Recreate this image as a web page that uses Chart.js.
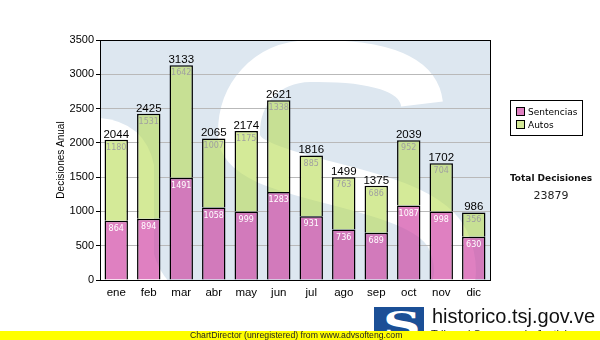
<!DOCTYPE html>
<html>
<head>
<meta charset="utf-8">
<script src="https://cdn.jsdelivr.net/npm/chart.js@4/dist/chart.umd.min.js"></script>
<style>
  body { margin: 0; background: #fff; }
  #wrap { position: relative; width: 600px; height: 340px; overflow: hidden; font-family: "DejaVu Sans", sans-serif; }
  #grafico { position: absolute; left: 0; top: 0; }
  .leyenda { position: absolute; left: 510px; top: 100px; width: 71px; height: 34px; border: 1px solid #000; background: #fff; }
  .item { position: absolute; left: 5px; font-size: 9px; line-height: 11px; color: #000; white-space: nowrap; }
  .item i { display: inline-block; width: 7px; height: 7px; border: 1px solid #000; margin-right: 3px; vertical-align: -1px; }
  .total-tit { position: absolute; left: 500px; width: 102px; top: 172px; text-align: center; font-weight: bold; font-size: 9px; line-height: 12px; color: #111; }
  .total-num { position: absolute; left: 500px; width: 102px; top: 189px; text-align: center; font-size: 11px; line-height: 14px; color: #222; }
  .logo { position: absolute; left: 374px; top: 307px; width: 50px; height: 33px; background: #1b4f96; overflow: hidden; }
  .logo span { position: absolute; left: 9px; top: -4px; font: bold 36px "DejaVu Serif", serif; color: #fff; transform: scaleX(1.45); transform-origin: left top; }
  .sitio { position: absolute; left: 432px; top: 306px; font: 20px "Liberation Sans", Arial, sans-serif; line-height: 20px; color: #111; }
  .tsj { position: absolute; left: 431px; top: 328px; font: 11px "Liberation Sans", Arial, sans-serif; line-height: 12px; color: #222; }
  .pie { position: absolute; left: 0; top: 331px; width: 600px; height: 9px; background: #ffff00; z-index: 5; }
  .pie span { position: absolute; left: 190px; top: -2px; font: 8.7px "Liberation Sans", Arial, sans-serif; line-height: 12px; color: #222; white-space: nowrap; }
</style>
</head>
<body>
<div id="wrap">
  <canvas id="grafico" width="600" height="340"></canvas>
  <div class="leyenda">
    <div class="item" style="top:6px"><i style="background:#df80c1"></i>Sentencias</div>
    <div class="item" style="top:19px"><i style="background:#d4ea98"></i>Autos</div>
  </div>
  <div class="total-tit">Total Decisiones</div>
  <div class="total-num" id="totalNum"></div>
  <div class="logo"><span>S</span></div>
  <div class="sitio">historico.tsj.gov.ve</div>
  <div class="tsj">Tribunal Supremo de Justicia</div>
  <div class="pie"><span>ChartDirector (unregistered) from www.advsofteng.com</span></div>
</div>
<script>
const meses = ["ene", "feb", "mar", "abr", "may", "jun", "jul", "ago", "sep", "oct", "nov", "dic"];
const sentencias = [864, 894, 1491, 1058, 999, 1283, 931, 736, 689, 1087, 998, 630];
const autos = [1180, 1531, 1642, 1007, 1175, 1338, 885, 763, 686, 952, 704, 356];

const totales = meses.map((m, i) => sentencias[i] + autos[i]);
document.getElementById("totalNum").textContent = totales.reduce((a, b) => a + b, 0);

// la "S" del logo como marca de agua del área de trazado
function pintarMarca(o, a) {
  const w = a.right - a.left, h = a.bottom - a.top;
  o.save();
  o.beginPath();
  o.rect(a.left, a.top, w, h);
  o.clip();
  o.translate(a.left, a.top);
  o.fillStyle = "#dde7f0";
  o.fillRect(0, 0, w, h);
  o.strokeStyle = "#fff";
  o.fillStyle = "#fff";
  o.lineWidth = 42;
  o.beginPath();
  o.moveTo(322, 64);
  o.bezierCurveTo(318, 30, 270, 20, 210, 21);
  o.bezierCurveTo(165, 22, 138, 55, 139, 95);
  o.bezierCurveTo(140, 145, 320, 140, 348, 200);
  o.bezierCurveTo(370, 250, 340, 295, 250, 298);
  o.bezierCurveTo(130, 302, 40, 290, 30, 200);
  o.stroke();
  // remate inferior izquierdo
  o.beginPath();
  o.moveTo(0, 78);
  o.quadraticCurveTo(45, 82, 54, 125);
  o.lineTo(54, h);
  o.lineTo(0, h);
  o.closePath();
  o.fill();
  o.restore();
}

const decorado = {
  id: "decorado",
  beforeDraw(chart) {
    pintarMarca(chart.ctx, chart.chartArea);
  },
  afterDatasetsDraw(chart) {
    const { ctx, chartArea: a, canvas } = chart;
    const off = document.createElement("canvas");
    off.width = canvas.width;
    off.height = canvas.height;
    pintarMarca(off.getContext("2d"), a);

    // la marca se transparenta un poco sobre las barras
    ctx.save();
    ctx.beginPath();
    chart.data.datasets.forEach((ds, d) => {
      chart.getDatasetMeta(d).data.forEach(bar => {
        const half = bar.width / 2;
        ctx.rect(bar.x - half, bar.y, bar.width, bar.base - bar.y);
      });
    });
    ctx.clip();
    ctx.globalCompositeOperation = "multiply";
    ctx.globalAlpha = 0.45;
    ctx.drawImage(off, 0, 0);
    ctx.restore();

    const mS = chart.getDatasetMeta(0), mA = chart.getDatasetMeta(1);
    ctx.save();
    ctx.textAlign = "center";
    ctx.font = '8px "DejaVu Sans"';
    ctx.textBaseline = "middle";
    mS.data.forEach((bar, i) => {
      ctx.fillStyle = "#fff";
      ctx.fillText(sentencias[i], bar.x, bar.y + 8);
    });
    mA.data.forEach((bar, i) => {
      ctx.fillStyle = "#a0a0a0";
      ctx.fillText(autos[i], bar.x, bar.y + 8);
    });
    ctx.font = '11.5px "Liberation Sans"';
    ctx.textBaseline = "alphabetic";
    ctx.fillStyle = "#000";
    mA.data.forEach((bar, i) => {
      ctx.fillText(totales[i], bar.x, bar.y - 2);
    });
    ctx.restore();
  },
  afterDraw(chart) {
    const { ctx, chartArea: a } = chart;
    ctx.save();
    ctx.strokeStyle = "#000";
    ctx.lineWidth = 1;
    ctx.strokeRect(a.left + 0.5, a.top + 0.5, a.right - a.left, a.bottom - a.top);
    ctx.restore();
  }
};

new Chart(document.getElementById("grafico"), {
  type: "bar",
  data: {
    labels: meses,
    datasets: [{
      label: "Sentencias",
      data: sentencias,
      backgroundColor: "#df80c1",
      borderColor: "#000",
      borderWidth: 1.5
    }, {
      label: "Autos",
      data: autos,
      backgroundColor: "#d4ea98",
      borderColor: "#000",
      borderWidth: 1.5
    }]
  },
  options: {
    responsive: false,
    animation: false,
    events: [],
    layout: { padding: { top: 40, right: 110, left: 0, bottom: 0 } },
    datasets: { bar: { barPercentage: 0.72, categoryPercentage: 1 } },
    plugins: { legend: { display: false }, tooltip: { enabled: false } },
    scales: {
      x: {
        stacked: true,
        grid: { display: false, drawTicks: false },
        border: { display: false },
        ticks: { color: "#000", font: { family: "Liberation Sans", size: 11.5 }, padding: 6 },
        afterFit(s) { s.height = 60; }
      },
      y: {
        stacked: true,
        min: 0,
        max: 3500,
        ticks: {
          stepSize: 500,
          color: "#000",
          font: { family: "Liberation Sans", size: 11 },
          padding: 2,
          callback: v => String(v)
        },
        grid: { color: "#b9b9b9", tickColor: "#000", tickLength: 4 },
        border: { display: false },
        title: {
          display: true,
          text: "Decisiones Anual",
          color: "#000",
          font: { family: "Liberation Sans", size: 10 },
          padding: { top: 55, bottom: 0 }
        },
        afterFit(s) { s.width = 100; }
      }
    }
  },
  plugins: [decorado]
});
</script>
</body>
</html>
